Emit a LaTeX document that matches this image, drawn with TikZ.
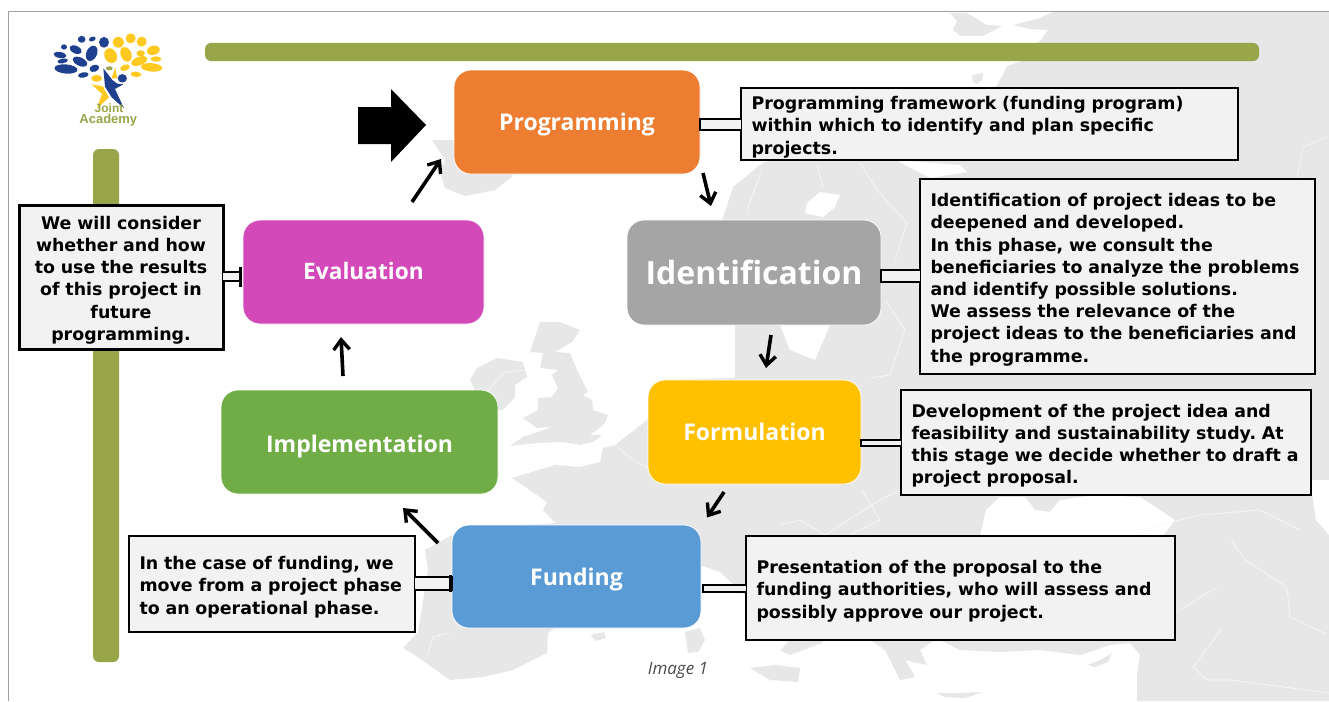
\documentclass[tikz,border=0pt]{standalone}
\usepackage{fontspec}
\usetikzlibrary{arrows.meta}
\setmainfont{DejaVu Sans}
\frenchspacing
\newfontfamily\labfont{Open Sans}
\newfontfamily\logofont{Liberation Sans}
\definecolor{maptone}{HTML}{E7E7E7}
\definecolor{barolive}{HTML}{98A548}
\definecolor{boxfill}{HTML}{F2F2F2}
\definecolor{logoblue}{HTML}{1F3F8F}
\definecolor{logoyellow}{HTML}{FFC91F}
\newcommand\toprule{\rule{0pt}{19.5pt}}
\tikzset{
  phase/.style={rounded corners=17pt,draw=white,line width=.8pt,text=white,outer sep=0pt,inner sep=0pt,
     font=\labfont\bfseries\fontsize{23}{27}\selectfont},
  note/.style={draw=black,line width=2pt,fill=boxfill,outer sep=0pt,inner xsep=10.5pt,inner ysep=0pt,align=left,
     font=\bfseries\fontsize{17.4}{22.2}\selectfont},
  stem/.style={draw=black,line width=1.8pt,fill=boxfill},
  flow/.style={draw=black,line width=3.6pt,-{Straight Barb[length=10pt,width=16pt,line width=3.4pt]}},
  bar/.style={fill=barolive,rounded corners=6pt},
  land/.style={fill=maptone},
  sea/.style={fill=white},
  border/.style={draw=maptone!35!white,line width=.7pt},
}
\begin{document}
\begin{tikzpicture}[x=1pt,y=-1pt]
\useasboundingbox (0,0) rectangle (1329,701);
\fill[white] (0,0) rectangle (1329,701);
% map
\path[land] (723,218)--(733,187)--(760,165)--(850,120)--(995,88)--(1003,75)--(1007,66)--(1022,61)--(1040,41)--(1048,30)--(1030,29)--(1013,25)--(1040,18)--(1055,11)
 --(1329,11)--(1329,701)--(1137,701)--(1137,675)--(1140,655)--(1130,643)--(1110,645)--(1080,655)--(1040,650)--(1000,652)--(960,650)--(940,640)
 --(935,640)--(920,650)--(927,665)--(905,660)--(915,677)--(900,680)--(885,650)--(870,640)--(860,630)--(830,630)--(822,643)--(790,655)--(780,650)--(790,640)--(780,625)--(745,595)--(720,572)--(700,565)
 --(660,600)--(600,615)--(565,622)--(548,633)--(547,653)--(513,670)--(483,677)--(450,680)--(415,655)--(403,648)--(418,632)--(428,570)--(425,550)--(452,535)--(480,528)
 --(555,523)--(543,510)--(547,502)--(512,478)--(555,465)--(580,467)--(600,462)--(603,448)--(615,445)--(647,420)--(660,380)--(735,378)--(735,325)--(700,250)--cycle;
% white seas
\path[sea] (980,536)--(986,510)--(1000,497)--(1025,497)--(1035,510)--(1050,512)--(1060,500)--(1095,495)--(1140,497)--(1175,520)--(1160,540)--(980,540)--cycle;
\path[sea] (1310,480)--(1316,520)--(1329,535)--(1329,480)--cycle;
\path[sea] (805,213)--(807,203)--(820,192)--(840,195)--(835,207)--(823,217)--cycle;
\path[sea] (895,160)--(960,165)--(967,172)--(930,178)--(915,170)--cycle;
\path[sea] (780,325)--(830,325)--(815,360)--(790,350)--cycle;
\path[land] (972,75)--(983,73)--(982,80)--(977,84)--(973,82)--cycle;
\path[land] (950,13)--(967,13)--(987,25)--(1002,26)--(983,36)--(960,36)--(953,30)--(957,21)--cycle;
% Iceland
\path[land] (432,140)--(454,140)--(455,165)--(510,172)--(513,176)--(495,190)--(465,196)--(445,188)--(440,172)--(445,160)--cycle;
% Britain
\path[land] (540,322)--(560,322)--(580,330)--(572,342)--(555,352)--(570,353)--(577,370)--(588,392)--(583,395)--(592,400)--(593,410)--(608,415)--(605,423)--(597,430)--(590,435)--(602,435)--(593,442)--(580,445)--(563,442)--(537,443)--(510,446)--(523,437)--(552,427)--(537,428)--(523,418)--(538,410)--(538,398)--(552,397)--(558,388)--(552,375)--(558,370)--(540,368)--(543,353)--(530,352)--(535,337)--cycle;
% Ireland
\path[land] (470,380)--(477,368)--(497,358)--(523,362)--(527,377)--(515,385)--(515,397)--(503,410)--(497,410)--(480,400)--cycle;
% islands
\path[land] (685,632)--(700,628)--(705,640)--(698,652)--(688,653)--cycle;
\path[land] (590,635)--(604,632)--(606,638)--(596,641)--cycle;
\path[land] (750,668)--(775,665)--(800,668)--(798,682)--(770,680)--cycle;
\path[land] (937,693)--(960,693)--(983,692)--(965,698)--(945,697)--cycle;
\path[land] (1088,665)--(1100,660)--(1112,653)--(1108,662)--(1095,667)--cycle;
% frontiers
\path[border] (1231,540)--(1245,560)--(1287,587)--(1290,617)--(1326,634);
\path[border] (1221,630)--(1193,667)--(1207,680)--(1231,680)--(1329,693);
\path[border] (1175,613)--(1217,587);
\path[border] (1297,177)--(1303,147)--(1327,137);
\path[border] (747,210)--(762,170);
\path[border] (817,165)--(823,187);
\path[border] (860,163)--(877,190)--(907,223)--(893,267);
\path[border] (615,445)--(637,463)--(648,467);
\path[border] (427,657)--(433,637)--(450,633);
\path[border] (780,525)--(800,520)--(825,535)--(880,500)--(900,490);
\path[border] (862,490)--(880,520)--(850,535);
\path[border] (1140,530)--(1200,515)--(1260,510)--(1300,530);
\path[border] (885,300)--(905,330)--(890,375)--(870,378);
\path[border] (484,395)--(505,372)--(525,370);
% frame
\draw[gray!75,line width=1pt] (8.5,701)--(8.5,11.5)--(1329,11.5);
% bars
\path[bar] (205,43) rectangle (1259,61);
\path[bar] (93,149) rectangle (119,662);
% logo
\begin{scope}[shift={(40,25)},x=.3333pt,y=-.3333pt]
\foreach \ex/\ey/\ra/\rb/\rt in {125/43/10/9/0,157/42/9/6/20,192/52/13/14/0,72/66/8/7/0,107/74/17/10/-25,60/90/17/8/-10,68/108/14/6/10,155/85/14/21/-25,120/110/20/11/-25,78/132/30/12/-5,163/130/13/9/20,130/150/14/7/10,247/160/12/11/0}
  \fill[logoblue,rotate around={\rt:(\ex,\ey)}] (\ex,\ey) ellipse[x radius=1.15*\ra,y radius=1.15*\rb];
\foreach \ex/\ey/\ra/\rb/\rt in {235/52/15/14/0,272/40/13/13/0,305/50/13/13/0,340/76/17/12/15,302/85/11/8/0,212/92/16/20/25,258/88/14/20/25,348/102/14/7/0,298/108/22/11/20,335/127/28/11/-5,255/128/13/8/20,288/148/14/7/-5,170/160/14/9/0}
  \fill[logoyellow,rotate around={\rt:(\ex,\ey)}] (\ex,\ey) ellipse[x radius=1.15*\ra,y radius=1.15*\rb];
\fill[barolive] (208,130) ellipse[x radius=10,y radius=6];
\fill[logoyellow] (155,178)--(190,185)--(195,197)--(207,217)--(170,252)--(186,207)--cycle;
\fill[logoyellow] (226,128)--(232,160)--(214,160)--cycle;
\fill[logoblue] (190,130)--(217,165)--(232,176)--(250,178)--(225,192)--(252,250)--(215,217)--(195,185)--cycle;
\node[text=barolive,font=\logofont\bfseries\fontsize{12}{13}\selectfont,inner sep=0pt] (lj) at (207,250) {Joint};
\node[text=barolive,font=\logofont\bfseries\fontsize{13}{14}\selectfont,inner sep=0pt] (la) at (205,285) {Academy};
\end{scope}
% start arrow
\fill[black] (358,107)--(391,107)--(391,89)--(426,125)--(391,162)--(391,144)--(358,144)--cycle;
% phases
\node[phase,fill={rgb,255:red,237;green,125;blue,49},minimum width=246pt,minimum height=104pt,text height=21pt,text depth=5pt] (prog) at (577,122) {Programming};
\node[phase,fill={rgb,255:red,165;green,165;blue,165},minimum width=254pt,minimum height=105pt,font=\labfont\bfseries\fontsize{32}{37}\selectfont] (iden) at (754,272.5) {Identification};
\node[phase,fill={rgb,255:red,255;green,192;blue,0},minimum width=213pt,minimum height=104pt] (form) at (754.5,432) {Formulation};
\node[phase,fill={rgb,255:red,91;green,155;blue,213},minimum width=249pt,minimum height=103pt,text height=23pt,text depth=5pt] (fund) at (576.5,576.5) {Funding};
\node[phase,fill={rgb,255:red,112;green,173;blue,71},minimum width=277pt,minimum height=104pt,text height=25pt,text depth=5pt] (impl) at (359.5,442) {Implementation};
\node[phase,fill={rgb,255:red,212;green,73;blue,186},minimum width=241pt,minimum height=104pt,font=\labfont\bfseries\fontsize{22.7}{26}\selectfont,text height=15pt,text depth=0pt] (eval) at (363.5,272) {Evaluation};
% notes
\node[note,text width=476pt,minimum height=72pt] (nprog) at (989.5,124) {\toprule Programming framework (funding program)\\within which to identify and plan specific\\projects.};
\node[note,text width=374pt,minimum height=195pt] (niden) at (1117.5,276.5) {\toprule Identification of project ideas to be\\deepened and developed.\\In this phase, we consult the\\beneficiaries to analyze the problems\\and identify possible solutions.\\We assess the relevance of the\\project ideas to the beneficiaries and\\the programme.};
\node[note,text width=389pt,minimum height=105pt] (nform) at (1106,442.5) {\toprule Development of the project idea and\\feasibility and sustainability study. At\\this stage we decide whether to draft a\\project proposal.};
\node[note,text width=408pt,minimum height=104pt] (nfund) at (960.5,588) {\toprule Presentation of the proposal to the\\funding authorities, who will assess and\\possibly approve our project.};
\node[note,text width=265pt,minimum height=96pt] (nimpl) at (272,584) {\toprule In the case of funding, we\\move from a project phase\\to an operational phase.};
\node[note,line width=3pt,text width=183pt,minimum height=144pt,align=center] (neval) at (121,277) {\toprule We will consider\\whether and how\\to use the results\\of this project in\\future\\programming.};
% stems
\path[stem] (nprog.west|-0,119)--(prog.east|-0,119)--(prog.east|-0,130)--(nprog.west|-0,130);
\path[stem] (niden.west|-0,270)--(iden.east|-0,270)--(iden.east|-0,282)--(niden.west|-0,282);
\path[stem] (nform.west|-0,440)--(form.east|-0,440)--(form.east|-0,446)--(nform.west|-0,446);
\path[stem] (nfund.west|-0,585)--([xshift=2pt]fund.east|-0,585)--([xshift=2pt]fund.east|-0,592)--(nfund.west|-0,592);
\path[stem] (nimpl.east|-0,577)--(fund.west|-0,577)--(fund.west|-0,590)--(nimpl.east|-0,590);
\path[stem] (neval.east|-0,272)--([xshift=-3pt]eval.west|-0,272)--([xshift=-3pt]eval.west|-0,281)--(neval.east|-0,281);
\draw[black,line width=3pt] ([xshift=-1.5pt]fund.west|-0,575)--([xshift=-1.5pt]fund.west|-0,592);
\draw[black,line width=3pt] ([xshift=-3pt]eval.west|-0,267)--([xshift=-3pt]eval.west|-0,287);
% flow arrows
\draw[flow] ([shift={(48.5,-18)}]eval.north)--([shift={(-13,-15)}]prog.south west);
\draw[flow] ([shift={(126,-1)}]prog.south)--([shift={(-43,-14)}]iden.north);
\draw[flow] ([shift={(17,10)}]iden.south)--([shift={(11.5,-12)}]form.north);
\draw[flow] ([shift={(-30.5,8)}]form.south)--([shift={(130.5,-7.5)}]fund.north);
\draw[flow] ([shift={(-14,18)}]fund.north west)--([shift={(43.5,14)}]impl.south);
\draw[flow] ([shift={(-16.5,-14)}]impl.north)--([shift={(-22.5,13)}]eval.south);
% caption
\node[text=black!70,font=\labfont\itshape\fontsize{17}{20}\selectfont,inner sep=0pt] (cap) at (678,670) {Image 1};
\end{tikzpicture}
\end{document}
